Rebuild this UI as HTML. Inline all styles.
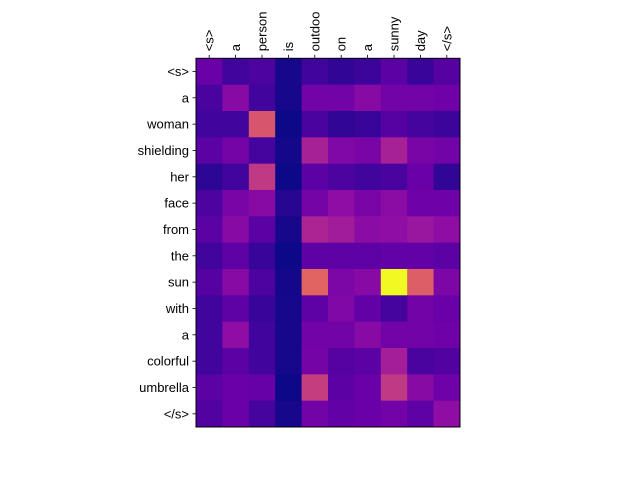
<!DOCTYPE html>
<html><head><meta charset="utf-8"><style>
html,body{margin:0;padding:0;background:#fff;width:640px;height:480px;overflow:hidden}
text{font-family:"Liberation Sans",sans-serif;font-size:13px;fill:#000}
</style></head><body>
<svg id="chart" width="640" height="480" xmlns="http://www.w3.org/2000/svg"></svg>
<script>
const xLabels = ["<s>","a","person","is","outdoo","on","a","sunny","day","</s>"];
const yLabels = ["<s>","a","woman","shielding","her","face","from","the","sun","with","a","colorful","umbrella","</s>"];
const row0 = [0.2,0.1,0.13,0.02,0.1,0.07,0.09,0.16,0.08,0.15];
const row1 = [0.12,0.28,0.1,0.02,0.22,0.22,0.28,0.22,0.22,0.21];
const row2 = [0.1,0.1,0.55,0.0,0.12,0.07,0.08,0.15,0.11,0.09];
const row3 = [0.16,0.23,0.11,0.01,0.37,0.26,0.24,0.37,0.24,0.22];
const row4 = [0.06,0.1,0.45,0.0,0.16,0.13,0.1,0.12,0.2,0.07];
const row5 = [0.13,0.24,0.28,0.05,0.23,0.3,0.24,0.29,0.21,0.21];
const row6 = [0.16,0.28,0.16,0.02,0.38,0.35,0.29,0.3,0.33,0.3];
const row7 = [0.1,0.17,0.08,0.0,0.17,0.17,0.17,0.18,0.18,0.16];
const row8 = [0.15,0.28,0.13,0.01,0.6,0.25,0.28,1.0,0.58,0.25];
const row9 = [0.1,0.17,0.08,0.02,0.17,0.26,0.18,0.11,0.22,0.2];
const row10 = [0.1,0.3,0.1,0.02,0.22,0.22,0.28,0.22,0.22,0.21];
const row11 = [0.1,0.16,0.1,0.02,0.23,0.15,0.16,0.36,0.12,0.14];
const row12 = [0.16,0.2,0.19,0.0,0.47,0.16,0.2,0.45,0.28,0.21];
const row13 = [0.14,0.2,0.11,0.02,0.22,0.18,0.2,0.22,0.17,0.3];
const values = [row0,row1,row2,row3,row4,row5,row6,row7,row8,row9,row10,row11,row12,row13];

const plasma = ["#0d0887","#41049d","#6a00a8","#8f0da4","#b12a90","#cc4778","#e16462","#f2844b","#fca636","#fcce25","#f0f921"];
function hex(c){return [1,3,5].map(i=>parseInt(c.substr(i,2),16));}
function cmap(v){
  v=Math.max(0,Math.min(1,v));const p=v*10,i=Math.min(9,Math.floor(p)),t=p-i;
  const a=hex(plasma[i]),b=hex(plasma[i+1]);
  return "rgb("+a.map((x,k)=>Math.round(x+(b[k]-x)*t)).join(",")+")";
}
const L=196,T=58.3,W=264,H=368.7;
const cw=W/xLabels.length, ch=H/yLabels.length;
const xs=i=>L+i*cw, ys=j=>T+j*ch;
const svg=document.getElementById('chart');
const NS="http://www.w3.org/2000/svg";
function mk(tag,attrs){const e=document.createElementNS(NS,tag);for(const k in attrs)e.setAttribute(k,attrs[k]);svg.appendChild(e);return e;}
values.forEach((row,j)=>row.forEach((v,i)=>{
  const r=mk('rect',{x:xs(i),y:ys(j),width:cw+0.5,height:ch+0.5,fill:cmap(v)});
  
  
}));
const frame=mk('rect',{x:L,y:T,width:W,height:H,fill:'none',stroke:'#000','stroke-width':1});


xLabels.forEach((lab,i)=>{
  const cx=xs(i)+cw/2;
  const tk=mk('line',{x1:cx,y1:T,x2:cx,y2:T-3.5,stroke:'#000','stroke-width':0.8});
  
  
  const t=mk('text',{x:0,y:0,transform:`translate(${cx+4.5},${T-7}) rotate(-90)`,'text-anchor':'start'});
  t.textContent=lab;
  
  
});
yLabels.forEach((lab,j)=>{
  const cy=ys(j)+ch/2;
  const tk=mk('line',{x1:L,y1:cy,x2:L-3.5,y2:cy,stroke:'#000','stroke-width':0.8});
  
  
  const t=mk('text',{x:L-7,y:cy+4.5,'text-anchor':'end'});
  t.textContent=lab;
  
  
});
</script>
</body></html>
